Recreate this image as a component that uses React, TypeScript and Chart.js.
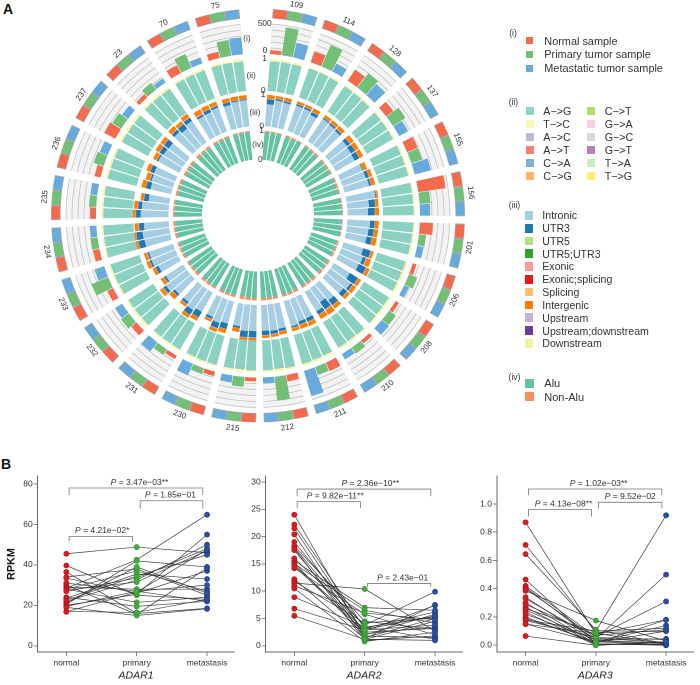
import React, { useEffect, useRef } from "react";
import { Chart, registerables, DatasetController } from "chart.js";

const samples = ["109","114","128","137","155","156","201","206","208","210","211","212","215","230","231","232","233","234","235","236","237","23","70","75"];

// Track (i): editing-site counts per sample
const normalCounts = [65,190,220,150,190,460,220,65,65,65,155,110,65,75,65,110,110,110,95,100,210,70,150,110];
const primaryCounts = [470,390,300,250,190,180,120,150,140,120,140,400,165,100,110,165,300,120,120,175,175,140,250,265];
const metastaticCounts = [250,150,250,170,280,170,110,85,155,100,440,100,120,210,190,140,170,110,115,140,120,80,100,280];

// Track (ii): per bar (three bars per sample)
const agShare = [.93,.94,.94,.96,.96,.95,.96,.96,.95,.95,.95,.95,.95,.95,.95,.96,.96,.96,.96,.95,.94,.93,.92,.92,.92,.92,.93,.93,.92,.93,.93,.93,.94,.94,.92,.94,.94,.93,.94,.94,.94,.93,.94,.94,.94,.93,.93,.93,.94,.95,.95,.95,.95,.94,.93,.93,.93,.93,.93,.93,.93,.92,.92,.93,.93,.92,.94,.94,.93,.94,.94,.93];
const tcShare = [.07,.06,.06,.04,.04,.05,.04,.04,.05,.05,.05,.05,.05,.05,.05,.04,.04,.04,.04,.05,.06,.07,.08,.08,.08,.08,.07,.07,.08,.07,.07,.07,.06,.06,.08,.06,.06,.07,.06,.06,.06,.07,.06,.06,.06,.07,.07,.07,.06,.05,.05,.05,.05,.06,.07,.07,.07,.07,.07,.07,.07,.08,.08,.07,.07,.08,.06,.06,.07,.06,.06,.07];

// Track (iii): per bar
const intronic = [.70,.85,.83,.85,.85,.76,.85,.82,.79,.74,.71,.69,.77,.78,.81,.93,.69,.65,.72,.69,.67,.66,.74,.71,.60,.80,.72,.66,.54,.72,.76,.76,.83,.81,.84,.82,.83,.84,.72,.72,.78,.68,.70,.80,.68,.69,.83,.66,.70,.82,.81,.84,.86,.79,.88,.85,.66,.67,.71,.72,.76,.72,.70,.80,.72,.82,.75,.76,.81,.77,.83,.84];
const utr3 = [.16,.05,.05,.05,.06,.10,.04,.06,.07,.12,.15,.16,.03,.10,.06,.03,.20,.22,.15,.17,.17,.25,.10,.25,.30,.08,.15,.20,.28,.12,.12,.10,.05,.08,.10,.14,.20,.20,.06,.18,.18,.07,.20,.18,.08,.08,.10,.06,.10,.06,.05,.20,.20,.16,.15,.12,.15,.15,.05,.13,.05,.15,.18,.10,.18,.12,.06,.10,.06,.10,.04,.03];
const exonic = [.02,.02,.02,.02,.02,.02,.02,.02,.02,.02,.01,.01,.02,.01,.02,.01,.01,.01,.01,.01,.01,.02,.03,.02,.02,.02,.02,.02,.03,.02,.03,.02,.02,.02,.02,.02,.02,.01,.01,.01,.02,.02,.01,.01,.02,.02,.02,.02,.01,.02,.03,.01,.01,.02,.02,.02,.01,.01,.02,.01,.02,.02,.02,.03,.02,.03,.04,.02,.02,.01,.01,.01];
const intergenic = [.12,.08,.10,.08,.07,.12,.09,.10,.12,.13,.13,.14,.11,.11,.12,.05,.10,.12,.12,.13,.15,.08,.15,.12,.10,.12,.10,.12,.18,.15,.12,.13,.10,.10,.08,.07,.08,.12,.12,.13,.11,.08,.12,.11,.08,.13,.12,.11,.10,.10,.09,.13,.12,.12,.12,.11,.10,.14,.13,.12,.12,.13,.12,.13,.10,.13,.15,.13,.12,.12,.12,.12];

// Track (iv): per bar
const aluShare = [.97,.96,.96,.95,.95,.96,.96,.95,.94,.95,.95,.94,.94,.95,.95,.96,.96,.97,.97,.97,.96,.95,.94,.94,.93,.95,.93,.92,.93,.93,.92,.93,.93,.93,.91,.92,.92,.93,.90,.92,.93,.92,.94,.93,.93,.92,.93,.94,.94,.95,.93,.93,.94,.93,.95,.94,.94,.94,.93,.93,.93,.94,.93,.92,.94,.93,.94,.93,.94,.95,.95,.96];
const nonAluShare = [.03,.04,.04,.05,.05,.04,.04,.05,.06,.05,.05,.06,.06,.05,.05,.04,.04,.03,.03,.03,.04,.05,.06,.06,.07,.05,.07,.08,.07,.07,.08,.07,.07,.07,.09,.08,.08,.07,.10,.08,.07,.08,.06,.07,.07,.08,.07,.06,.06,.05,.07,.07,.06,.07,.05,.06,.06,.06,.07,.07,.07,.06,.07,.08,.06,.07,.06,.07,.06,.05,.05,.04];

// Panel B
const groups = ["normal", "primary", "metastasis"];
const adar1Normal = [45.5,39.7,36.5,34,33.5,31,30,29,28.5,28,28,27.5,27,24,23.5,22.5,22,21,20.5,20,19.5,19,17,16.8];
const adar1Primary = [48.8,25,16,38,26,27,15.5,28,42.5,37,21.5,31.5,33.5,19.5,35.5,34.5,32.5,39,42,25.5,27,15,16.5,26.5];
const adar1Metastasis = [46,23,18.5,25,37,22,38.5,28,64.8,27,24,47,48,22,33,45,50,26,39,55,30,18.3,23,47.5];
const adar2Normal = [24,22.2,21.5,20.4,19,18.3,18,17.8,17.5,16,15.6,15.2,15,14.8,14.6,14.2,12.2,11.8,11.5,11,10.5,8.9,6.8,5.5];
const adar2Primary = [1.5,3.2,2.2,1.2,3.4,4.5,2.7,1,2,3.8,7,1.8,6.5,3,2.5,5.8,1.3,4.2,10.4,6,.8,3.5,2.9,1.2];
const adar2Metastasis = [5,6.2,3.5,4.5,5.3,3,7.4,1.8,5.8,9.9,6.5,1.5,4.2,5.5,3.2,2,7.5,5.1,2.7,4.8,2.5,1.2,3.8,1];
const adar3Normal = [.87,.71,.645,.465,.42,.41,.40,.385,.34,.33,.30,.29,.27,.26,.25,.235,.22,.20,.19,.18,.175,.15,.15,.065];
const adar3Primary = [.08,.10,.11,.01,.06,.03,.05,.175,.02,.045,.01,.07,.005,.09,.035,0,.04,.015,.025,.10,.055,.02,.085,0];
const adar3Metastasis = [.18,.92,.01,.005,.31,.01,.02,.03,.14,.50,0,.11,.005,.10,.015,.02,.045,.18,0,.12,.04,.10,.01,.025];

const FONT = '"Liberation Sans", Arial, sans-serif';
const RED = "#f46a4c", GREEN = "#72c077", BLUE = "#66abdb";
const DPR = 2;

class RingController extends DatasetController {
  static id = "ring";
  static defaults = { datasetElementType: false, dataElementType: "arc" };
  update(mode: any) {
    const meta: any = this._cachedMeta;
    this.updateElements(meta.data, 0, meta.data.length, mode);
  }
  updateElements(arcs: any[], start: number, count: number, mode: any) {
    const { xScale, yScale }: any = this._cachedMeta;
    const area = this.chart.chartArea;
    const ds: any = this.getDataset();
    const toAngle = (deg: number) => ((xScale.getPixelForValue(deg) - area.left) / (area.right - area.left)) * Math.PI * 2 - Math.PI / 2;
    const toRadius = (v: number) => area.bottom - yScale.getPixelForValue(v);
    for (let i = start; i < start + count; i++) {
      const raw = ds.data[i];
      const startAngle = toAngle(raw.x - ds.span / 2);
      const endAngle = toAngle(raw.x + ds.span / 2);
      this.updateElement(arcs[i], i, {
        x: (area.left + area.right) / 2,
        y: (area.top + area.bottom) / 2,
        startAngle, endAngle, circumference: endAngle - startAngle,
        innerRadius: toRadius(raw.base), outerRadius: toRadius(raw.y),
        options: this.resolveDataElementOptions(i, mode),
      }, mode);
    }
  }
}
Chart.register(...registerables, RingController as any);
Chart.defaults.font.family = FONT;

const RING_H = 431;
function radial(r0: number, r1: number, top: number) {
  const unit = (r1 - r0) / top;
  return { type: "linear", axis: "y", display: false, min: -r0 / unit, max: (RING_H - r0) / unit };
}
const sectorAngle = (i: number) => 10.4 + 14.7 * i;
const barAngle = (i: number) => sectorAngle(Math.floor(i / 3)) + ((i % 3) - 1) * 4.17;

function ringSet(label: string, color: string, yAxisID: string, span: number, order: number, data: any[]) {
  return { type: "ring", label, backgroundColor: color, borderWidth: 0, yAxisID, xAxisID: "x", span, order, data };
}
function stack(yAxisID: string, span: number, series: [string, string, number[]][]) {
  const base = new Array(72).fill(0);
  return series.map(([label, color, vals]) => {
    const data = vals.map((v, i) => {
      const p = { x: barAngle(i), base: base[i], y: base[i] + v };
      base[i] += v;
      return p;
    });
    return ringSet(label, color, yAxisID, span, 1, data);
  });
}

function circosDatasets() {
  const secs = samples.map((_, i) => sectorAngle(i));
  const out: any[] = [];
  out.push(ringSet("frame", "#a8a8a8", "yRing", 12.6, 5, secs.map((x) => ({ x, base: 0, y: 1 }))));
  [RED, GREEN, BLUE].forEach((c, k) => {
    out.push(ringSet(["Normal ring","Primary ring","Metastatic ring"][k], c, "yRing", 3.72, 1, secs.map((x) => ({ x: x + (k - 1) * 4.17, base: .07, y: .95 }))));
  });
  out.push(ringSet("panel", "#f3f3f3", "yCount", 12.5, 8, secs.map((x) => ({ x, base: 0, y: 500 }))));
  [100, 200, 300, 400, 500].forEach((v) => {
    out.push(ringSet("grid" + v, "#bcbcbc", "yCount", 12.5, 6, secs.map((x) => ({ x, base: v - 6, y: v + 6 }))));
  });
  [["Normal sample", RED, normalCounts], ["Primary tumor sample", GREEN, primaryCounts], ["Metastatic tumor sample", BLUE, metastaticCounts]].forEach(([l, c, vals]: any, k) => {
    out.push(ringSet(l, c, "yCount", 3.95, 1, vals.map((v: number, i: number) => ({ x: secs[i] + (k - 1) * 4.17, base: 0, y: v }))));
  });
  out.push(...stack("yMut", 3.72, [["A->G", "#8ad1c1", agShare], ["T->C", "#fbf7b0", tcShare]]));
  out.push(...stack("yReg", 3.67, [["Intronic", "#a6cee3", intronic], ["UTR3", "#1f78b4", utr3], ["Exonic", "#fb9a99", exonic], ["Intergenic", "#ff7f00", intergenic]]));
  out.push(...stack("yAlu", 3.5, [["Alu", "#66c2a5", aluShare], ["Non-Alu", "#fc8d62", nonAluShare]]));
  return out;
}

const circosText = {
  id: "circosText",
  afterDatasetsDraw(chart: any) {
    const { ctx, chartArea: a, scales } = chart;
    const cx = (a.left + a.right) / 2, cy = (a.top + a.bottom) / 2;
    const rad = (id: string, v: number) => a.bottom - scales[id].getPixelForValue(v);
    ctx.save();
    ctx.fillStyle = "#333";
    ctx.textAlign = "center";
    ctx.textBaseline = "middle";
    ctx.font = "8px " + FONT;
    samples.forEach((s, i) => {
      const deg = sectorAngle(i);
      const t = (deg * Math.PI) / 180;
      const r = 214;
      ctx.save();
      ctx.translate(cx + r * Math.sin(t), cy - r * Math.cos(t));
      ctx.rotate(((deg > 90 && deg < 270 ? deg - 180 : deg) * Math.PI) / 180);
      ctx.fillText(s, 0, 0);
      ctx.restore();
    });
    ctx.font = "8.4px " + FONT;
    const at = (txt: string, r: number, deg: number) => {
      const t = (deg * Math.PI) / 180;
      ctx.fillText(txt, cx + r * Math.sin(t), cy - r * Math.cos(t));
    };
    at("500", rad("yCount", 500), 2);
    at("0", rad("yCount", 0) + 3, 2.4);
    at("1", rad("yMut", 1), 2.4);
    at("0", rad("yMut", 0), 2.4);
    at("1", rad("yReg", 1), 2.4);
    at("0", rad("yReg", 0), 2.4);
    at("1", rad("yAlu", 1), 2.4);
    at("0", rad("yAlu", 0), 2.4);
    at("(i)", 177, -3.6);
    at("(ii)", 140, -2.8);
    at("(iii)", 103, -1.7);
    at("(iv)", 71, 0);
    ctx.restore();
  },
};

function CircosChart() {
  const ref = useRef<HTMLCanvasElement>(null);
  useEffect(() => {
    const chart = new Chart(ref.current as any, {
      type: "ring" as any,
      data: { datasets: circosDatasets() },
      options: {
        responsive: false, animation: false as any, events: [], devicePixelRatio: DPR,
        layout: { padding: 0 },
        plugins: { legend: { display: false }, tooltip: { enabled: false } },
        scales: {
          x: { type: "linear", axis: "x", display: false, min: 0, max: 360 },
          yRing: radial(197.5, 207, 1),
          yCount: radial(162, 192, 500),
          yMut: radial(125, 157, 1),
          yReg: radial(89.5, 121, 1),
          yAlu: radial(56, 85, 1),
        } as any,
      },
      plugins: [circosText as any],
    } as any);
    return () => chart.destroy();
  }, []);
  return <canvas ref={ref} width={516} height={RING_H} style={{ position: "absolute", left: 0, top: 0, width: 516, height: RING_H }} />;
}

const bracketPlugin = {
  id: "brackets",
  afterDatasetsDraw(chart: any, _a: any, opts: any) {
    const { ctx, scales: { x, y } } = chart;
    ctx.save();
    opts.items.forEach((b: any) => {
      const x1 = x.getPixelForValue(b.from), x2 = x.getPixelForValue(b.to);
      const yt = y.getPixelForValue(b.top), yb = y.getPixelForValue(b.bottom);
      ctx.strokeStyle = "#777";
      ctx.lineWidth = 0.8;
      ctx.beginPath();
      ctx.moveTo(x1, yb); ctx.lineTo(x1, yt); ctx.lineTo(x2, yt); ctx.lineTo(x2, yb);
      ctx.stroke();
      const rest = " = " + b.text;
      ctx.font = "8.5px " + FONT;
      const wRest = ctx.measureText(rest).width;
      ctx.font = "italic 8.5px " + FONT;
      const wP = ctx.measureText("P").width;
      const left = x.getPixelForValue(b.labelAt) - (wRest + wP) / 2;
      const ty = yt - opts.lift;
      ctx.fillStyle = "#333";
      ctx.textBaseline = "middle";
      ctx.textAlign = "left";
      ctx.fillText("P", left, ty);
      ctx.font = "8.5px " + FONT;
      ctx.fillText(rest, left + wP, ty);
    });
    ctx.restore();
  },
};

function PairedChart({ name, normal, primary, metastasis, ticks, yMin, yMax, left, top, width, yWidth, padTop, showTitle, tickFmt, items }: any) {
  const ref = useRef<HTMLCanvasElement>(null);
  useEffect(() => {
    const cols = ["#e3171d", "#43ad3c", "#2b4fa6"];
    const edges = ["#a81a1e", "#2f8f2c", "#1e3a80"];
    const lines = normal.map((v: number, i: number) => ({
      type: "line", order: 2, borderColor: "rgba(45,45,45,0.9)", borderWidth: 0.7, pointRadius: 0, fill: false,
      data: [{ x: 0, y: v }, { x: 1, y: primary[i] }, { x: 2, y: metastasis[i] }],
    }));
    const pts = [normal, primary, metastasis].map((vals: number[], k: number) => ({
      type: "scatter", order: 1, label: groups[k], backgroundColor: cols[k], borderColor: edges[k], borderWidth: 0.6, pointRadius: 2.6,
      data: vals.map((v) => ({ x: k, y: v })),
    }));
    const axisColor = "#666";
    const chart = new Chart(ref.current as any, {
      type: "scatter",
      data: { datasets: [...pts, ...lines] as any },
      options: {
        responsive: false, animation: false as any, events: [], devicePixelRatio: DPR,
        layout: { padding: { top: padTop, left: 0, right: 0, bottom: 0 } },
        plugins: { legend: { display: false }, tooltip: { enabled: false }, brackets: { items, lift: 5.5 } } as any,
        scales: {
          x: {
            type: "linear", min: -0.407, max: 2.389,
            afterBuildTicks: (s: any) => { s.ticks = [0, 1, 2].map((value) => ({ value })); },
            afterFit: (s: any) => { s.height = 33; },
            grid: { drawOnChartArea: false, drawTicks: true, tickLength: 4, color: axisColor, lineWidth: 0.8 },
            border: { color: axisColor, width: 1 },
            ticks: { autoSkip: false, maxRotation: 0, padding: 2, color: "#333", font: { size: 8.5 }, callback: (v: any) => groups[v] },
            title: { display: true, text: name, color: "#222", font: { size: 10.5, style: "italic" }, padding: { top: 0, bottom: 3 } },
          },
          y: {
            type: "linear", min: yMin, max: yMax,
            afterBuildTicks: (s: any) => { s.ticks = ticks.map((value: number) => ({ value })); },
            afterFit: (s: any) => { s.width = yWidth; },
            grid: { drawOnChartArea: false, drawTicks: true, tickLength: 4, color: axisColor, lineWidth: 0.8 },
            border: { color: axisColor, width: 1 },
            ticks: { autoSkip: false, padding: 1, color: "#333", font: { size: 8.5 }, callback: tickFmt },
            title: showTitle ? { display: true, text: "RPKM", color: "#111", font: { size: 10.8, weight: "bold" }, padding: { top: 3, bottom: 0 } } : { display: false },
          },
        } as any,
      },
      plugins: [bracketPlugin as any],
    } as any);
    return () => chart.destroy();
  }, []);
  const height = 685 - top;
  return <canvas ref={ref} width={width} height={height} style={{ position: "absolute", left, top, width, height }} />;
}

const legendI: [string, string][] = [["Normal sample", RED], ["Primary tumor sample", GREEN], ["Metastatic tumor sample", BLUE]];
const legendII: [string, string][] = [["A−>G", "#8dd3c7"], ["T−>C", "#f8f6b4"], ["A−>C", "#bebada"], ["A−>T", "#fb8072"], ["C−>A", "#80b1d3"], ["C−>G", "#fdb462"], ["C−>T", "#b3de69"], ["G−>A", "#fccde5"], ["G−>C", "#d9d9d9"], ["G−>T", "#bc80bd"], ["T−>A", "#ccebc5"], ["T−>G", "#ffed6f"]];
const legendIII: [string, string][] = [["Intronic", "#a6cee3"], ["UTR3", "#1f78b4"], ["UTR5", "#b2df8a"], ["UTR5;UTR3", "#33a02c"], ["Exonic", "#fb9a99"], ["Exonic;splicing", "#e31a1c"], ["Splicing", "#fdbf6f"], ["Intergenic", "#ff7f00"], ["Upstream", "#cab2d6"], ["Upstream;downstream", "#6a3d9a"], ["Downstream", "#f6f29c"]];
const legendIV: [string, string][] = [["Alu", "#66c2a5"], ["Non-Alu", "#fc8d62"]];

function Item({ label, color, sx, size, tx, y, font }: any) {
  return (
    <>
      <div style={{ position: "absolute", left: sx, top: y - size / 2, width: size, height: size, background: color }} />
      <div style={{ position: "absolute", left: tx, top: y - 8, height: 16, lineHeight: "16px", fontSize: font, color: "#333", whiteSpace: "nowrap" }}>{label}</div>
    </>
  );
}
function Roman({ text, x, y }: any) {
  return <div style={{ position: "absolute", left: x - 15, width: 30, textAlign: "center", top: y - 6, lineHeight: "12px", fontSize: 8.5, color: "#333" }}>{text}</div>;
}

export default function App() {
  const rowsII = [110.7, 124, 137, 150, 163, 176];
  const rowsIII = [215.3, 228.3, 241, 253.7, 266.3, 279.3, 292, 305, 317.7, 330.5, 343.3];
  return (
    <div style={{ position: "absolute", left: 0, top: 0, width: 700, height: 685, overflow: "hidden", background: "#fff", fontFamily: FONT }}>
      <div style={{ position: "absolute", left: 3, top: 1, fontSize: 14, fontWeight: "bold", lineHeight: "16px", color: "#111" }}>A</div>
      <div style={{ position: "absolute", left: 1, top: 456, fontSize: 14, fontWeight: "bold", lineHeight: "16px", color: "#111" }}>B</div>
      <CircosChart />
      <Roman text="(i)" x={513} y={32.7} />
      {legendI.map(([l, c], i) => <Item key={l} label={l} color={c} sx={526.3} size={7} tx={544.3} y={[40.7, 54.3, 68][i]} font={10.9} />)}
      <Roman text="(ii)" x={513.5} y={102.3} />
      {legendII.map(([l, c], i) => <Item key={l} label={l} color={c} sx={i < 6 ? 525.7 : 586.7} size={8} tx={i < 6 ? 543.3 : 604.7} y={rowsII[i % 6]} font={10.7} />)}
      <Roman text="(iii)" x={514.5} y={205} />
      {legendIII.map(([l, c], i) => <Item key={l} label={l} color={c} sx={524.7} size={8.5} tx={542.3} y={rowsIII[i]} font={10.6} />)}
      <Roman text="(iv)" x={514.5} y={376.7} />
      {legendIV.map(([l, c], i) => <Item key={l} label={l} color={c} sx={525} size={9} tx={544.3} y={[383.3, 396.7][i]} font={11} />)}
      <PairedChart name="ADAR1" normal={adar1Normal} primary={adar1Primary} metastasis={adar1Metastasis}
        ticks={[0, 20, 40, 60, 80]} yMin={-3.04} yMax={83.87} left={2} top={470} width={237} yWidth={35.7} padTop={2} showTitle
        tickFmt={(v: any) => String(v)}
        items={[
          { from: .04, to: 1.94, top: 78, bottom: 74.4, labelAt: 1.04, text: "3.47e−03**" },
          { from: 1.05, to: 1.94, top: 71.7, bottom: 67.8, labelAt: 1.48, text: "1.85e−01" },
          { from: .04, to: .94, top: 54.1, bottom: 51.5, labelAt: .51, text: "4.21e−02*" },
        ]} />
      <PairedChart name="ADAR2" normal={adar2Normal} primary={adar2Primary} metastasis={adar2Metastasis}
        ticks={[0, 5, 10, 15, 20, 25, 30]} yMin={-1.127} yMax={31.07} left={240} top={470} width={227} yWidth={25.7} padTop={2}
        tickFmt={(v: any) => String(v)}
        items={[
          { from: .04, to: 1.94, top: 28.7, bottom: 27.4, labelAt: 1.08, text: "2.36e−10**" },
          { from: .04, to: .94, top: 26.4, bottom: 25.2, labelAt: .58, text: "9.82e−11**" },
          { from: 1.04, to: 1.94, top: 11.4, bottom: 10.8, labelAt: 1.54, text: "2.43e−01" },
        ]} />
      <PairedChart name="ADAR3" normal={adar3Normal} primary={adar3Primary} metastasis={adar3Metastasis}
        ticks={[0, .2, .4, .6, .8, 1]} yMin={-.048} yMax={1.1975} left={470} top={470} width={228} yWidth={27} padTop={0}
        tickFmt={(v: any) => Number(v).toFixed(1)}
        items={[
          { from: .04, to: 1.94, top: 1.106, bottom: 1.06, labelAt: 1.04, text: "1.02e−03**" },
          { from: .04, to: .94, top: .961, bottom: .911, labelAt: .54, text: "4.13e−08**" },
          { from: 1.04, to: 1.94, top: 1.012, bottom: .968, labelAt: 1.49, text: "9.52e−02" },
        ]} />
    </div>
  );
}
